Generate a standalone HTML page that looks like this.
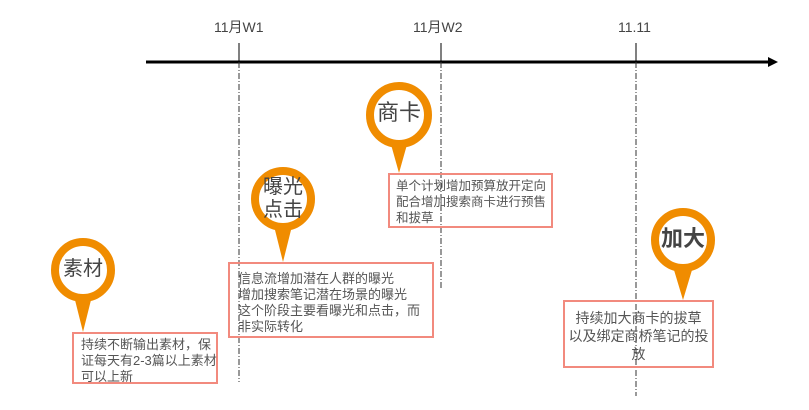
<!DOCTYPE html>
<html><head><meta charset="utf-8"><style>
body{margin:0;background:#fff;width:809px;height:410px;overflow:hidden;position:relative;font-family:"Liberation Sans","Noto Sans CJK SC",sans-serif;color:#555}
.t{position:absolute;font-size:14px;color:#444}
.box{position:absolute;border:2px solid #f28a7e;box-sizing:border-box;font-size:12.5px;line-height:16px;color:#555;padding:4px 8px;white-space:nowrap}
.pt{position:absolute;font-size:20px;color:#444;text-align:center;line-height:23px}
</style></head><body>
<svg width="809" height="410" style="position:absolute;left:0;top:0">
<line x1="146" y1="62" x2="768" y2="62" stroke="#000" stroke-width="3"/>
<polygon points="768,57 778,62 768,67" fill="#000"/>
<g stroke="#000" stroke-width="1">
<line x1="239" y1="43" x2="239" y2="62"/><line x1="441" y1="43" x2="441" y2="62"/><line x1="636" y1="43" x2="636" y2="62"/>
</g>
<g stroke="#333" stroke-width="1" stroke-dasharray="6,2,1,2">
<line x1="239" y1="62" x2="239" y2="382"/><line x1="441" y1="62" x2="441" y2="288"/><line x1="636" y1="62" x2="636" y2="396"/>
</g>
<g fill="#f08c00">
<polygon points="74,296 92,296 83,332"/>
<polygon points="274,226 292,226 283,262"/>
<polygon points="390,141 408,141 399,173"/>
<polygon points="674,270 692,270 683,300"/>
</g>
<g fill="#fff" stroke="#f08c00" stroke-width="8">
<circle cx="83" cy="270" r="28"/>
<circle cx="283" cy="199" r="28"/>
<circle cx="399" cy="115" r="29"/>
<circle cx="683" cy="240" r="28"/>
</g>
</svg>
<div class="t" style="left:214px;top:17px">11月W1</div>
<div class="t" style="left:413px;top:17px">11月W2</div>
<div class="t" style="left:618px;top:19px">11.11</div>
<div class="pt" style="left:56px;top:258px;width:54px">素材</div>
<div class="pt" style="left:256px;top:176px;width:54px">曝光<br>点击</div>
<div class="pt" style="left:370px;top:101px;width:58px;font-size:22px">商卡</div>
<div class="pt" style="left:654px;top:227px;width:58px;font-weight:bold;font-size:22px">加大</div>
<div class="box" style="left:72px;top:332px;width:146px;height:52px;padding:3px 7px;font-size:13px">持续不断输出素材，保<br>证每天有2-3篇以上素材<br>可以上新</div>
<div class="box" style="left:228px;top:262px;width:206px;height:76px;padding:7px 8px;font-size:13px">信息流增加潜在人群的曝光<br>增加搜索笔记潜在场景的曝光<br>这个阶段主要看曝光和点击，而<br>非实际转化</div>
<div class="box" style="left:388px;top:173px;width:165px;height:55px;padding:3px 6px">单个计划增加预算放开定向<br>配合增加搜索商卡进行预售<br>和拔草</div>
<div class="box" style="left:563px;top:300px;width:151px;height:68px;padding:7px 2px;text-align:center;font-size:14px;line-height:18px">持续加大商卡的拔草<br>以及绑定商桥笔记的投<br>放</div>
</body></html>
